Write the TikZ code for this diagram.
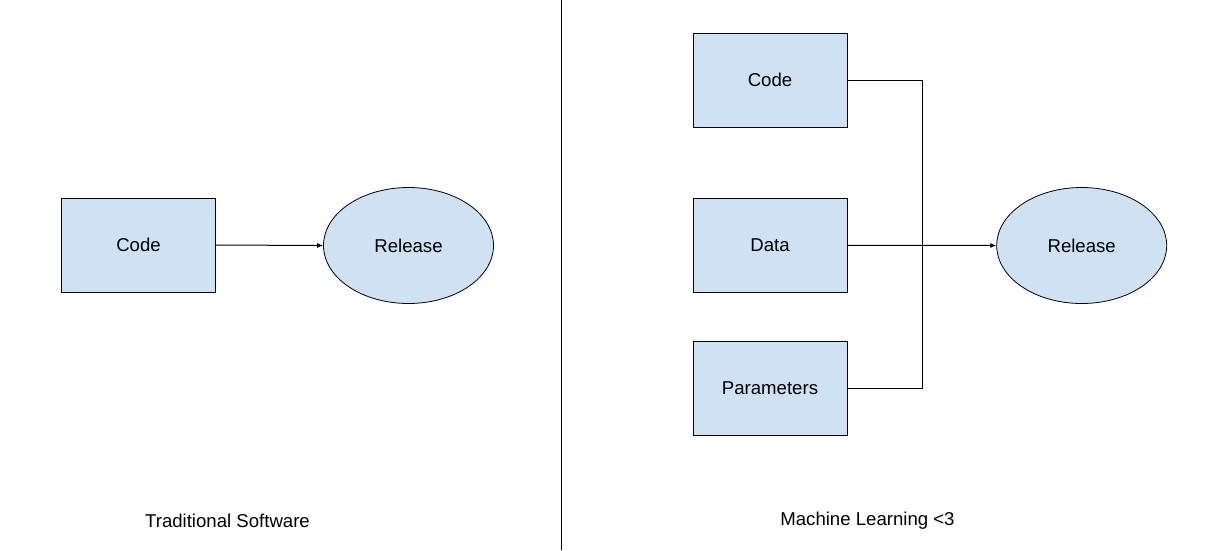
\documentclass[tikz,border=0pt]{standalone}
\usepackage{fontspec}
\setmainfont{Liberation Sans}
\usetikzlibrary{arrows.meta,shapes.geometric}
\definecolor{boxfill}{HTML}{CFE2F3}
\begin{document}
\begin{tikzpicture}[x=1pt,y=-1pt,
  every node/.style={font=\fontsize{18.6}{22}\selectfont},
  blockbox/.style={draw=black,fill=boxfill,line width=1pt,minimum width=154pt,minimum height=94pt,inner sep=0pt},
  releaseshape/.style={ellipse,draw=black,fill=boxfill,line width=0.8pt,minimum width=170pt,minimum height=116pt,inner sep=0pt},
  link/.style={draw=black,line width=1pt},
  arrowlink/.style={link,-{Latex[length=6pt,width=5pt]}},
  caption/.style={inner sep=0pt}]
  \useasboundingbox (0,0) rectangle (1210,550);

  % divider between the two halves
  \coordinate (divtop) at (561.5,0);
  \coordinate (divbot) at (561.5,550);
  \draw[line width=1.3pt] (divtop) -- (divbot);

  % traditional software
  \node[blockbox] (tcode) at (138.5,245) {Code};
  \node[releaseshape] (trel) at (408.5,245.5) {Release};
  \draw[arrowlink] (tcode.east) -- (trel.west);
  \node[caption] (tcap) at (227.5,521) {Traditional Software};

  % machine learning
  \node[blockbox] (mcode) at (770,80.3) {Code};
  \node[blockbox] (mdata) at (770,245.3) {Data};
  \node[blockbox] (mparam) at (770,388) {Parameters};
  \node[releaseshape] (mrel) at (1081.7,245.5) {Release};
  \coordinate (merge) at (922.3,245.3);
  \draw[link] (mcode.east) -| (merge);
  \draw[link] (mparam.east) -| (merge);
  \draw[arrowlink] (mdata.east) -- (mrel.west);
  \node[caption] (mcap) at (867.5,521) {Machine Learning <3};
\end{tikzpicture}
\end{document}
